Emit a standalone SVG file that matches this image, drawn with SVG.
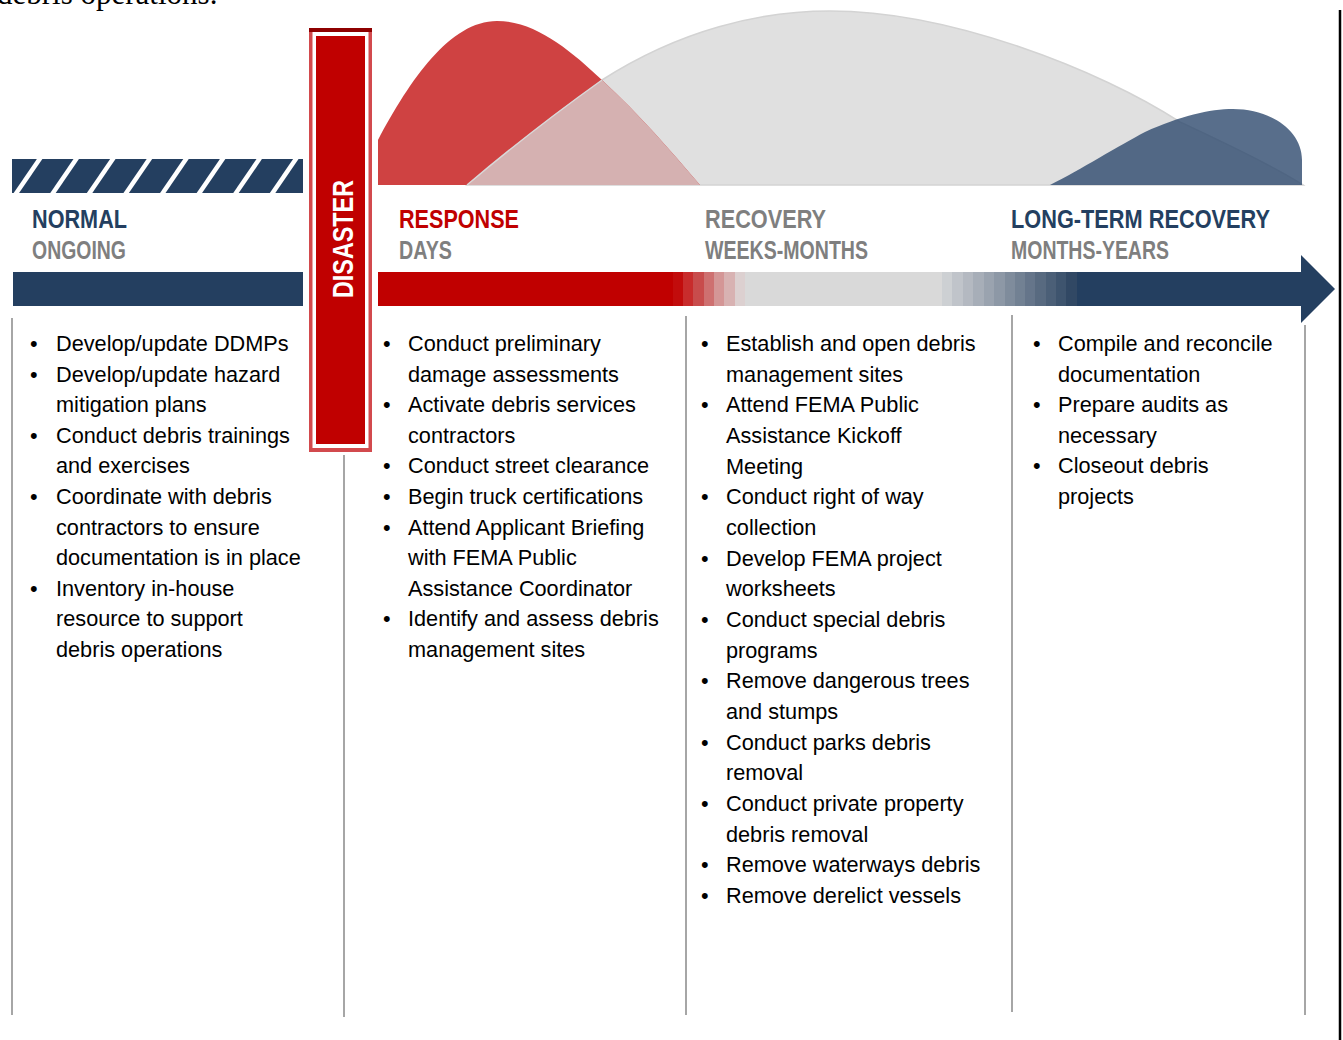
<svg xmlns="http://www.w3.org/2000/svg" width="1343" height="1040" viewBox="0 0 1343 1040">
<style>
.body{font-family:"Liberation Sans",Arial,sans-serif;font-size:21.7px;fill:#000}
.hd{font-family:"Liberation Sans",Arial,sans-serif;font-size:26.5px;font-weight:bold}
.navy{fill:#243F60}.gray{fill:#7F7F7F}.red{fill:#C00000}
.vline{stroke:#A6A6A6;stroke-width:2}
</style>
<defs>
<clipPath id="hatchClip"><rect x="12" y="159" width="291" height="34"/></clipPath>
<clipPath id="grayClip"><path d="M467,185 C520,140 560,110 602,80 C680,30 760,11 830,11 C950,11 1100,70 1180,122 C1240,150 1280,170 1303,185 Z"/></clipPath>
</defs>
<text x="-3" y="4" style="font-family:'Liberation Serif','Times New Roman',serif;font-size:31px;fill:#000">debris operations.</text>
<line x1="1340" y1="10" x2="1340" y2="1040" stroke="#000" stroke-width="2.5"/>

<g id="curves">
<path id="gray-curve" d="M467,185 C520,140 560,110 602,80 C680,30 760,11 830,11 C950,11 1100,70 1180,122 C1240,150 1280,170 1303,185 Z" fill="#E0E0E0" stroke="#D3D3D3" stroke-width="1.5"/>
<path id="red-curve" d="M378,185 L378,140 C410,80 450,21 497,21 C535,21 570,50 602,80 C640,115 670,150 700,185 Z" fill="#CF4242"/>
<g clip-path="url(#grayClip)"><path d="M378,185 L378,140 C410,80 450,21 497,21 C535,21 570,50 602,80 C640,115 670,150 700,185 Z" fill="#D5B1B1"/></g>
<path d="M467,185 C520,140 560,110 602,80" fill="none" stroke="#D8D8D8" stroke-width="1.5"/>
<path id="navy-curve" d="M1050,185 C1080,170 1120,145 1145,132 C1180,116 1210,109 1233,109 C1270,109 1302,130 1302,160 L1302,185 Z" fill="#2E4A6E" fill-opacity="0.8"/>
</g>

<g id="normal">
<rect x="12" y="159" width="291" height="34" fill="#243F60"/>
<g clip-path="url(#hatchClip)" stroke="#fff" stroke-width="4.5">
<line x1="15" y1="195" x2="41" y2="157"/>
<line x1="51.6" y1="195" x2="77.6" y2="157"/>
<line x1="88.2" y1="195" x2="114.2" y2="157"/>
<line x1="124.8" y1="195" x2="150.8" y2="157"/>
<line x1="161.4" y1="195" x2="187.4" y2="157"/>
<line x1="198" y1="195" x2="224" y2="157"/>
<line x1="234.6" y1="195" x2="260.6" y2="157"/>
<line x1="271.2" y1="195" x2="297.2" y2="157"/>
</g>
<text class="hd navy" x="32" y="228" textLength="95" lengthAdjust="spacingAndGlyphs">NORMAL</text>
<text class="hd gray" x="32" y="259" textLength="94" lengthAdjust="spacingAndGlyphs">ONGOING</text>
<rect x="13" y="272" width="290" height="34" fill="#243F60"/>
</g>

<g id="disaster">
<rect x="309" y="28" width="63" height="424" fill="#D24A4D"/>
<rect x="309" y="28" width="63" height="4" fill="#8E0000"/>
<rect x="312.5" y="32" width="56" height="416" fill="#fff"/>
<rect x="316" y="36" width="49" height="408" fill="#C00000"/>
<text transform="translate(353,298) rotate(-90)" x="0" y="0" style="font-family:'Liberation Sans',Arial,sans-serif;font-weight:bold;font-size:29px;fill:#fff" textLength="118" lengthAdjust="spacingAndGlyphs">DISASTER</text>
</g>

<g id="timeline-bar">
<rect x="378" y="272" width="296" height="34" fill="#C00000"/>
<rect x="673" y="272" width="10.5" height="34" fill="#C20C0C"/>
<rect x="683" y="272" width="10.5" height="34" fill="#C82C2C"/>
<rect x="693" y="272" width="11.5" height="34" fill="#C84C4C"/>
<rect x="704" y="272" width="10.5" height="34" fill="#CE7070"/>
<rect x="714" y="272" width="10.5" height="34" fill="#D49696"/>
<rect x="724" y="272" width="11.5" height="34" fill="#D8B2B2"/>
<rect x="735" y="272" width="10.5" height="34" fill="#DCD0D0"/>
<rect x="745" y="272" width="197.5" height="34" fill="#D9D9D9"/>
<rect x="942" y="272" width="10.5" height="34" fill="#CDD0D3"/>
<rect x="952" y="272" width="11.5" height="34" fill="#C0C4CA"/>
<rect x="963" y="272" width="10.5" height="34" fill="#B4B9C1"/>
<rect x="973" y="272" width="11.5" height="34" fill="#A7AEB8"/>
<rect x="984" y="272" width="10.5" height="34" fill="#9AA3AF"/>
<rect x="994" y="272" width="11.5" height="34" fill="#8D98A6"/>
<rect x="1005" y="272" width="10.5" height="34" fill="#7F8C9C"/>
<rect x="1015" y="272" width="10.5" height="34" fill="#728193"/>
<rect x="1025" y="272" width="10.5" height="34" fill="#65758A"/>
<rect x="1035" y="272" width="11.5" height="34" fill="#586A80"/>
<rect x="1046" y="272" width="10.5" height="34" fill="#4B5F77"/>
<rect x="1056" y="272" width="10.5" height="34" fill="#3E546E"/>
<rect x="1066" y="272" width="11.5" height="34" fill="#314864"/>
<path d="M1077,272 L1301,272 L1301,255 L1335,289 L1301,323 L1301,306 L1077,306 Z" fill="#243F60"/>
</g>

<g id="response">
<text class="hd red" x="399" y="228" textLength="120" lengthAdjust="spacingAndGlyphs">RESPONSE</text>
<text class="hd gray" x="399" y="259" textLength="53" lengthAdjust="spacingAndGlyphs">DAYS</text>
</g>
<g id="recovery">
<text class="hd gray" x="705" y="228" textLength="121" lengthAdjust="spacingAndGlyphs">RECOVERY</text>
<text class="hd gray" x="705" y="259" textLength="163" lengthAdjust="spacingAndGlyphs">WEEKS-MONTHS</text>
</g>
<g id="long-term">
<text class="hd navy" x="1011" y="228" textLength="259" lengthAdjust="spacingAndGlyphs">LONG-TERM RECOVERY</text>
<text class="hd gray" x="1011" y="259" textLength="158" lengthAdjust="spacingAndGlyphs">MONTHS-YEARS</text>
</g>

<g id="dividers">
<line class="vline" x1="12" y1="318" x2="12" y2="1015"/>
<line class="vline" x1="344" y1="455" x2="344" y2="1017"/>
<line class="vline" x1="686" y1="316" x2="686" y2="1015"/>
<line class="vline" x1="1012" y1="315" x2="1012" y2="1012"/>
<line class="vline" x1="1305" y1="325" x2="1305" y2="1015"/>
</g>

<g id="col-normal" class="body">
<text x="30" y="351">•</text><text x="56" y="351">Develop/update DDMPs</text>
<text x="30" y="381.6">•</text><text x="56" y="381.6">Develop/update hazard</text>
<text x="56" y="412.2">mitigation plans</text>
<text x="30" y="442.8">•</text><text x="56" y="442.8">Conduct debris trainings</text>
<text x="56" y="473.4">and exercises</text>
<text x="30" y="504">•</text><text x="56" y="504">Coordinate with debris</text>
<text x="56" y="534.6">contractors to ensure</text>
<text x="56" y="565.2">documentation is in place</text>
<text x="30" y="595.8">•</text><text x="56" y="595.8">Inventory in-house</text>
<text x="56" y="626.4">resource to support</text>
<text x="56" y="657">debris operations</text>
</g>

<g id="col-response" class="body">
<text x="383" y="351">•</text><text x="408" y="351">Conduct preliminary</text>
<text x="408" y="381.6">damage assessments</text>
<text x="383" y="412.2">•</text><text x="408" y="412.2">Activate debris services</text>
<text x="408" y="442.8">contractors</text>
<text x="383" y="473.4">•</text><text x="408" y="473.4">Conduct street clearance</text>
<text x="383" y="504">•</text><text x="408" y="504">Begin truck certifications</text>
<text x="383" y="534.6">•</text><text x="408" y="534.6">Attend Applicant Briefing</text>
<text x="408" y="565.2">with FEMA Public</text>
<text x="408" y="595.8">Assistance Coordinator</text>
<text x="383" y="626.4">•</text><text x="408" y="626.4">Identify and assess debris</text>
<text x="408" y="657">management sites</text>
</g>

<g id="col-recovery" class="body">
<text x="701" y="351">•</text><text x="726" y="351">Establish and open debris</text>
<text x="726" y="381.7">management sites</text>
<text x="701" y="412.3">•</text><text x="726" y="412.3">Attend FEMA Public</text>
<text x="726" y="443">Assistance Kickoff</text>
<text x="726" y="473.7">Meeting</text>
<text x="701" y="504.3">•</text><text x="726" y="504.3">Conduct right of way</text>
<text x="726" y="535">collection</text>
<text x="701" y="565.7">•</text><text x="726" y="565.7">Develop FEMA project</text>
<text x="726" y="596.4">worksheets</text>
<text x="701" y="627">•</text><text x="726" y="627">Conduct special debris</text>
<text x="726" y="657.7">programs</text>
<text x="701" y="688.4">•</text><text x="726" y="688.4">Remove dangerous trees</text>
<text x="726" y="719">and stumps</text>
<text x="701" y="749.7">•</text><text x="726" y="749.7">Conduct parks debris</text>
<text x="726" y="780.4">removal</text>
<text x="701" y="811">•</text><text x="726" y="811">Conduct private property</text>
<text x="726" y="841.7">debris removal</text>
<text x="701" y="872.4">•</text><text x="726" y="872.4">Remove waterways debris</text>
<text x="701" y="903">•</text><text x="726" y="903">Remove derelict vessels</text>
</g>

<g id="col-long-term" class="body">
<text x="1033" y="351">•</text><text x="1058" y="351">Compile and reconcile</text>
<text x="1058" y="381.6">documentation</text>
<text x="1033" y="412.2">•</text><text x="1058" y="412.2">Prepare audits as</text>
<text x="1058" y="442.8">necessary</text>
<text x="1033" y="473.4">•</text><text x="1058" y="473.4">Closeout debris</text>
<text x="1058" y="504">projects</text>
</g>
</svg>
